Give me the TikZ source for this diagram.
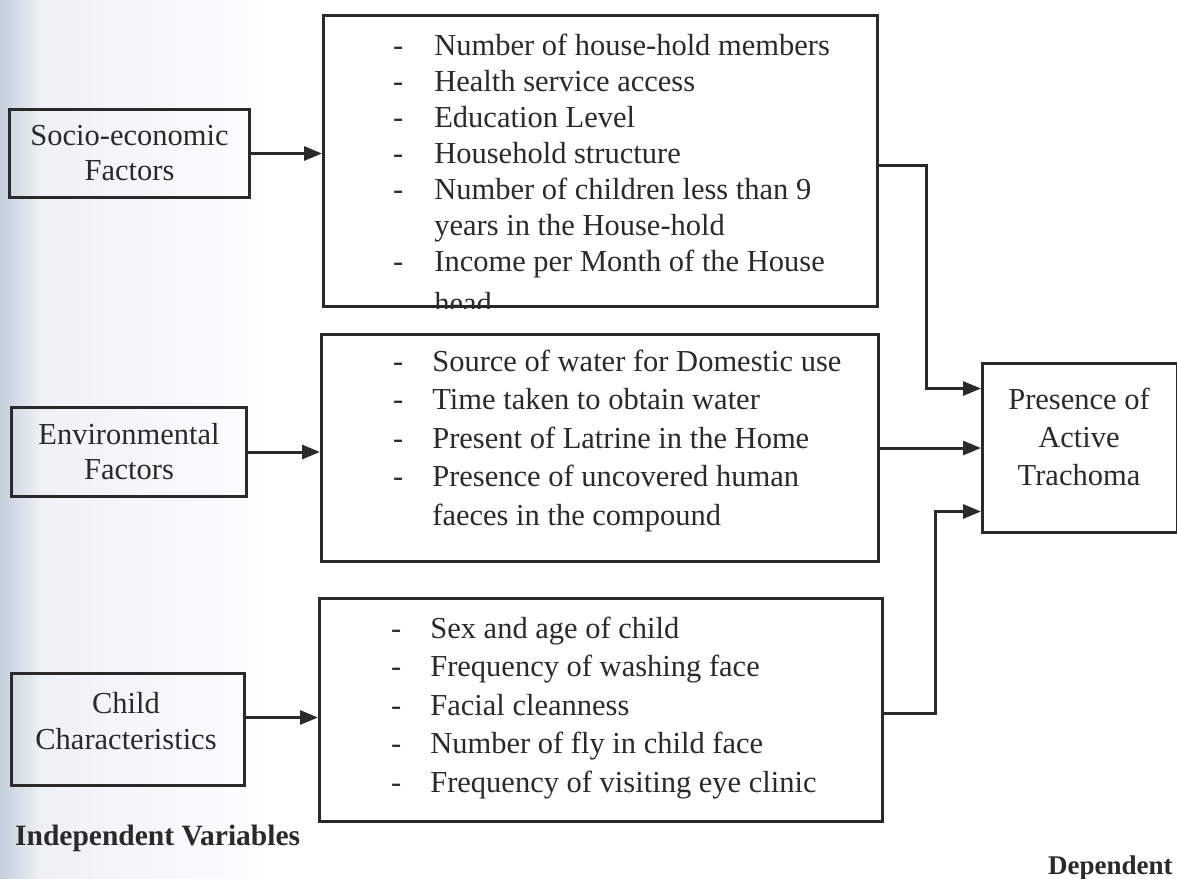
\documentclass[tikz,border=0pt]{standalone}
\usepackage{fontspec}
\setmainfont{Liberation Serif}
\usetikzlibrary{arrows.meta}
\definecolor{ink}{HTML}{2A2A2A}
\definecolor{scan}{HTML}{C3CEDB}
\definecolor{scanlight}{HTML}{EEF1F5}

\begin{document}
\begin{tikzpicture}[x=1pt,y=-1pt,
  factor/.style={draw=ink,line width=3pt,inner sep=0pt,anchor=north west,align=center,text=ink,font=\fontsize{30.5}{35}\selectfont},
  listbox/.style={draw=ink,line width=3pt,inner sep=0pt,anchor=north west},
  caption/.style={inner sep=0pt,align=center,text=ink,font=\fontsize{30.5}{38}\selectfont},
  items/.style={inner sep=0pt,anchor=base west,text=ink},
  link/.style={draw=ink,line width=3pt,-{Triangle[length=18pt,width=14pt]}}]
\useasboundingbox (0,0) rectangle (1177,878);
% scan tint at the left edge
\shade[left color=scan,right color=scanlight] (0,0) rectangle (40,878);
\shade[left color=scanlight,right color=white] (40,0) rectangle (290,878);

% factors
\node[factor,minimum width=240,minimum height=88] (socio) at (8,108) {Socio-economic\\Factors};
\node[factor,minimum width=235,minimum height=89] (env) at (10,406) {Environmental\\Factors};
\node[factor,minimum width=233,minimum height=112] (child) at (10,672) {};
\node[caption,font=\fontsize{30.5}{36}\selectfont] (childText) at (126,721) {Child\\Characteristics};

% lists
\node[listbox,minimum width=554,minimum height=291] (socioList) at (322,14) {};
\node[listbox,minimum width=557,minimum height=227] (envList) at (320,333) {};
\node[listbox,minimum width=563,minimum height=223] (childList) at (318,597) {};

\begin{scope}
\clip (socioList.north west) rectangle (socioList.south east);
\node[items,font=\fontsize{30.5}{36}\selectfont] (socioItems) at (393,55) {%
\begin{tabular}[t]{@{}l@{\hspace{31pt}}l@{}}
- & Number of house-hold members\\
- & Health service access\\
- & Education Level\\
- & Household structure\\
- & Number of children less than 9\\
  & years in the House-hold\\
- & Income per Month of the House\\[6pt]
  & head
\end{tabular}};
\end{scope}
\node[items,font=\fontsize{30.5}{38.5}\selectfont] (envItems) at (393,371) {%
\begin{tabular}[t]{@{}l@{\hspace{29pt}}l@{}}
- & Source of water for Domestic use\\
- & Time taken to obtain water\\
- & Present of Latrine in the Home\\
- & Presence of uncovered human\\
  & faeces in the compound
\end{tabular}};
\node[items,font=\fontsize{30.5}{38.5}\selectfont] (childItems) at (391,638) {%
\begin{tabular}[t]{@{}l@{\hspace{29pt}}l@{}}
- & Sex and age of child\\
- & Frequency of washing face\\
- & Facial cleanness\\
- & Number of fly in child face\\
- & Frequency of visiting eye clinic
\end{tabular}};

% outcome
\node[factor,minimum width=195,minimum height=169] (trachoma) at (981,362) {};
\node[caption] (trachomaText) at (1079,437) {Presence of\\Active\\Trachoma};

% connectors
\draw[link] (socio.east) -- (socio.east -| socioList.west);
\draw[link] (env.east) -- (env.east -| envList.west);
\draw[link] ([yshift=12pt]child.east) -- ([yshift=12pt]child.east -| childList.west);
\draw[link] ([yshift=-4pt]socioList.east) -- ++(47,0) |- ([yshift=59.5pt]trachoma.west);
\draw[link] (envList.east) -- (envList.east -| trachoma.west);
\draw[link] ([yshift=-3pt]childList.east) -- ++(51,0) |- ([yshift=-63.5pt]trachoma.west);

% captions
\node[items,font=\bfseries\fontsize{29.5}{34}\selectfont] (indepLabel) at (15,845) {Independent Variables};
\node[items,font=\bfseries\fontsize{27}{30}\selectfont] (depLabel) at (1048,874) {Dependent};
\end{tikzpicture}
\end{document}
